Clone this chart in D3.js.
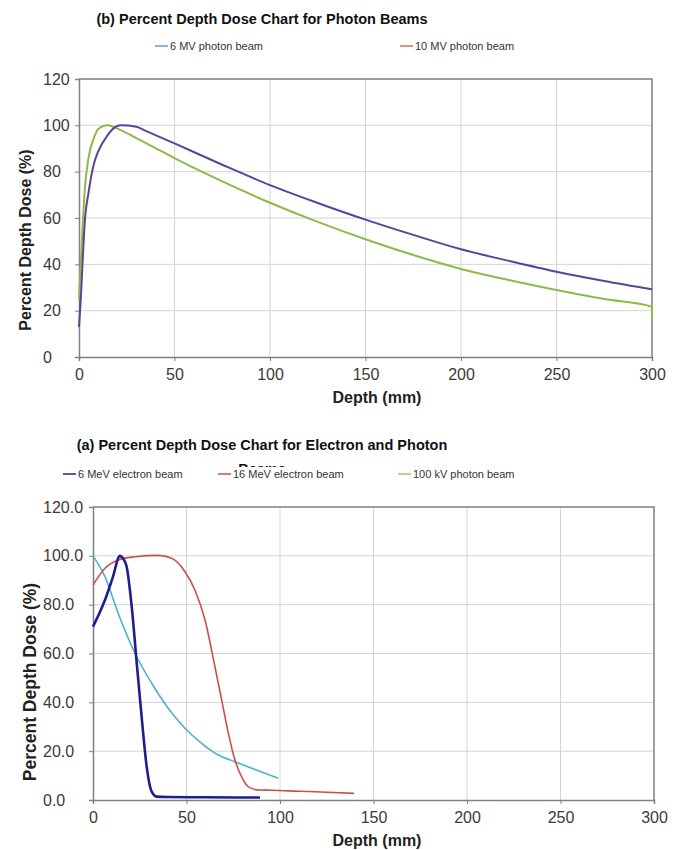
<!DOCTYPE html>
<html>
<head>
<meta charset="utf-8">
<script src="https://cdn.jsdelivr.net/npm/d3@7"></script>
<style>
body { margin: 0; background: #fff; }
svg { font-family: "Liberation Sans", Arial, sans-serif; }
</style>
</head>
<body>
<svg width="699" height="850"></svg>
<script>
var svg = d3.select("svg");

// ---- data: (b) photon beams ----
var mv6Depth = [0, 1, 2, 3, 5, 8, 10, 15, 20, 22, 30, 35, 50, 75, 100, 125, 150, 175, 200, 225, 250, 275, 300];
var mv6Dose = [13, 26, 43, 58, 71, 84, 88.6, 95.8, 99.7, 100, 99.4, 97.6, 92.2, 83, 74.2, 66.5, 59.3, 52.7, 46.5, 41.5, 36.8, 32.8, 29.2];
var mv10Depth = [0, 1, 2, 3, 5, 8, 10, 15, 20, 30, 40, 50, 75, 100, 125, 150, 175, 200, 225, 250, 275, 300, 300];
var mv10Dose = [25, 42, 58, 72, 86, 95, 98.3, 100, 98.6, 94.5, 90.2, 85.8, 75.8, 66.6, 58.3, 50.8, 44, 38, 33.2, 28.9, 25, 21.7, 15];

// ---- data: (a) electron and photon beams ----
var e6Depth = [0, 6.4, 10.5, 14.4, 16, 18, 20.7, 23.4, 26, 28.7, 31.4, 34, 40, 60, 89.3];
var e6Dose = [71, 81.9, 91, 100, 99, 95.5, 79.2, 56, 34.1, 13.7, 3.4, 1.4, 1.2, 1.1, 1];
var e16Depth = [0, 6.4, 13.5, 22.5, 34.9, 42.1, 49.2, 54.5, 59.9, 65.2, 68.8, 72.4, 75.9, 79.5, 83, 88.4, 95.5, 110, 125, 139.6];
var e16Dose = [88, 94.9, 98.3, 99.6, 100.2, 99, 93.5, 86, 73.7, 54.6, 41, 27.3, 16.4, 9.5, 5.5, 4.1, 4, 3.6, 3.2, 2.7];
var kv100Depth = [0, 6.4, 13.5, 22.5, 31.4, 40.3, 49.2, 58.1, 67, 75.9, 84.9, 99.1];
var kv100Dose = [100, 91.5, 76.4, 60, 47.8, 37.5, 29.4, 23.2, 18.4, 15.7, 13, 8.9];

var xTicks = [0, 50, 100, 150, 200, 250, 300];
var yTicks = [0, 20, 40, 60, 80, 100, 120];

function zip(xs, ys) {
    return xs.map(function (d, i) { return { x: d, y: ys[i] }; });
}

function drawChart(opt) {
    var x = d3.scaleLinear().domain([0, 300]).range([opt.left, opt.right]);
    var y = d3.scaleLinear().domain([0, 120]).range([opt.bottom, opt.top]);
    var g = svg.append("g");

    // grid
    g.append("g").selectAll("line")
        .data(xTicks.slice(1, -1))
        .enter().append("line")
        .attr("x1", function (d) { return x(d); })
        .attr("x2", function (d) { return x(d); })
        .attr("y1", opt.top).attr("y2", opt.bottom)
        .attr("stroke", "#d4d4d4").attr("stroke-width", 1);
    g.append("g").selectAll("line")
        .data(yTicks.slice(1, -1))
        .enter().append("line")
        .attr("x1", opt.left).attr("x2", opt.right)
        .attr("y1", function (d) { return y(d); })
        .attr("y2", function (d) { return y(d); })
        .attr("stroke", "#d4d4d4").attr("stroke-width", 1);

    // axes
    var xAxis = g.append("g")
        .attr("transform", "translate(0," + opt.bottom + ")")
        .call(d3.axisBottom(x).tickValues(xTicks).tickSize(4).tickPadding(8));
    var yAxis = g.append("g")
        .attr("transform", "translate(" + opt.left + ",0)")
        .call(d3.axisLeft(y).tickValues(yTicks).tickSize(4)
            .tickFormat(opt.yFormat));
    // the y labels sit flush left in the original
    yAxis.selectAll(".tick text")
        .attr("text-anchor", "start")
        .attr("x", 43 - opt.left);
    [xAxis, yAxis].forEach(function (a) {
        a.select(".domain").attr("stroke", "#7f7f7f").attr("stroke-width", 1.5);
        a.selectAll(".tick line").attr("stroke", "#7f7f7f");
        a.selectAll(".tick text").attr("fill", "#3a3a3a").style("font-size", "16px");
    });
    // top and right frame
    g.append("path")
        .attr("d", "M" + opt.left + "," + opt.top + "H" + opt.right + "V" + opt.bottom)
        .attr("fill", "none").attr("stroke", "#7f7f7f").attr("stroke-width", 1.5);

    // series
    var line = d3.line()
        .x(function (d) { return x(d.x); })
        .y(function (d) { return y(d.y); })
        .curve(d3.curveMonotoneX);
    opt.series.forEach(function (s) {
        g.append("path")
            .datum(s.data)
            .attr("d", line)
            .attr("fill", "none")
            .attr("stroke", s.color)
            .attr("stroke-width", s.width)
            .attr("stroke-linejoin", "round");
    });

    // axis labels
    g.append("text")
        .attr("x", 377)
        .attr("y", opt.bottom + 46)
        .attr("text-anchor", "middle")
        .attr("font-weight", "bold").attr("font-size", 16).attr("fill", "#222")
        .text("Depth (mm)");
    g.append("text")
        .attr("transform", "translate(" + opt.yLabelX + "," + opt.yLabelY + ") rotate(-90)")
        .attr("text-anchor", "middle")
        .attr("font-weight", "bold").attr("font-size", opt.yLabelSize).attr("fill", "#222")
        .text("Percent Depth Dose (%)");

    // titles
    opt.titles.forEach(function (t) {
        svg.append("text")
            .attr("x", 262).attr("y", t.y)
            .attr("text-anchor", "middle")
            .attr("font-weight", "bold").attr("font-size", 14.5).attr("fill", "#111")
            .text(t.text);
    });

    // legend
    if (opt.legendMask) {
        svg.append("rect")
            .attr("x", 40).attr("y", opt.legendMask).attr("width", 620).attr("height", 18)
            .attr("fill", "#fff");
    }
    opt.legend.forEach(function (l) {
        svg.append("line")
            .attr("x1", l.x).attr("x2", l.x + 13)
            .attr("y1", opt.legendY - 4).attr("y2", opt.legendY - 4)
            .attr("stroke", l.color).attr("stroke-width", 2);
        svg.append("text")
            .attr("x", l.x + 15).attr("y", opt.legendY)
            .attr("font-size", 11).attr("fill", "#333")
            .text(l.text);
    });
}

drawChart({
    left: 79, right: 652, top: 79, bottom: 357,
    yLabelX: 31, yLabelY: 240, yLabelSize: 16,
    yFormat: d3.format("d"),
    titles: [{ text: "(b) Percent Depth Dose Chart for Photon Beams", y: 24 }],
    legendY: 50,
    legend: [
        { x: 155, color: "#8db3e2", text: "6 MV photon beam" },
        { x: 400, color: "#e6908c", text: "10 MV photon beam" }
    ],
    series: [
        { data: zip(mv10Depth, mv10Dose), color: "#8cbb48", width: 2 },
        { data: zip(mv6Depth, mv6Dose), color: "#5c4398", width: 2 }
    ]
});

drawChart({
    left: 93, right: 654, top: 507, bottom: 800,
    yLabelX: 36, yLabelY: 682, yLabelSize: 17.5,
    yFormat: d3.format(".1f"),
    titles: [
        { text: "(a) Percent Depth Dose Chart for Electron and Photon", y: 450 },
        { text: "Beams", y: 474 }
    ],
    legendMask: 467,
    legendY: 478,
    legend: [
        { x: 63, color: "#5a5aa8", text: "6 MeV electron beam" },
        { x: 218, color: "#e07a78", text: "16 MeV electron beam" },
        { x: 398, color: "#b7d48a", text: "100 kV photon beam" }
    ],
    series: [
        { data: zip(kv100Depth, kv100Dose), color: "#4bb3c8", width: 1.6 },
        { data: zip(e16Depth, e16Dose), color: "#c9504c", width: 1.6 },
        { data: zip(e6Depth, e6Dose), color: "#1e1e8e", width: 2.6 }
    ]
});
</script>
</body>
</html>
